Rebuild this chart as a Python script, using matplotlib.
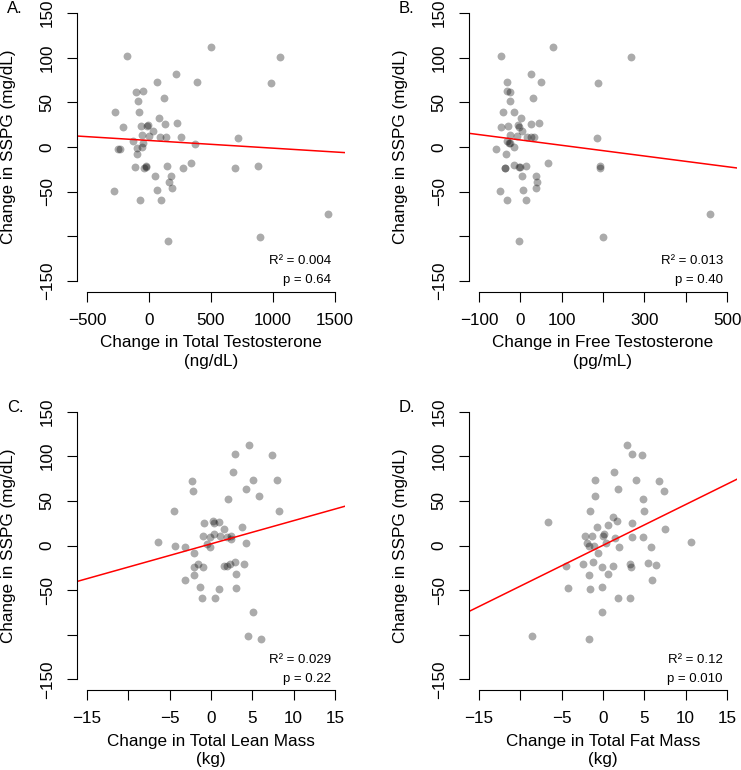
import matplotlib
matplotlib.use("Agg")
import matplotlib.pyplot as plt
import numpy as np

plt.rcParams["font.family"] = ["Liberation Sans", "DejaVu Sans"]

# Panel A: change in total testosterone (ng/dL) vs change in SSPG (mg/dL)
tt_x = [-180, 503, 1060, 216, 66, 390, 980, -106, -50, -90, 125, -272, -79, 79,
        -210, -68, -7, 130, 229, -18, 31, -60, 1, 85, 141, 256, 714, -127, -50,
        374, -250, -234, -98, -60, -95, -111, -39, -23, -20, 146, 275, 340, 691,
        875, 52, 178, 162, 189, 63, -283, -71, 95, 1441, 897, 151]
tt_y = [102, 112, 101, 82, 73, 73, 72, 62, 63, 52, 55, 39, 39, 32,
        22, 23, 25, 26, 27, 23, 18, 13, 12, 11, 11, 11, 10, 7, 4,
        3, -2, -2, -1, 0, -8, -22, -24, -21, -22, -21, -23, -18, -24,
        -21, -33, -32, -39, -46, -48, -49, -59, -59, -75, -101, -105]

# Panel B: change in free testosterone (pg/mL)
ft_x = [-47, 80, 267, 25, -31, 50, 187, -31, -24, -24, 31, -43, -16, 1,
        -46, -30, -6, 26, 46, -4, 3, -24, -8, 16, 32, 27, 186, -33, -27,
        -24, -59, -15, -35, -38, -37, -15, -2, 0, 14, 67, 192, 192, 4,
        37, 41, 38, 6, -49, -32, 14, 458, 200, -2]
ft_y = [102, 112, 101, 82, 73, 73, 72, 63, 62, 52, 55, 39, 39, 32,
        22, 23, 25, 26, 27, 22, 18, 13, 12, 11, 11, 11, 10, 7, 4,
        4, -2, 0, -8, -23, -23, -20, -22, -22, -21, -18, -21, -24, -33,
        -32, -39, -46, -48, -49, -59, -59, -75, -101, -105]

# Panel C: change in total lean mass (kg)
lm_x = [4.58, 2.85, 7.32, 2.69, -2.33, 5.11, 8.0, -2.13, 4.18, 5.75, 2.09, -4.5,
        8.28, -0.8, 0.24, 0.36, 0.92, 1.53, 3.7, -0.95, -0.07, 0.4, 1.05, 1.9,
        2.45, 2.45, 4.18, -6.35, -4.37, -3.1, -0.52, -0.16, -2.0, -2.0, -1.53,
        -0.93, 1.57, 1.93, 2.29, 2.85, 4.0, 3.05, -3.18, -2.05, -1.37, 2.97,
        0.92, -1.13, 0.48, 5.03, 4.42, 6.03]
lm_y = [112, 102, 101, 82, 72, 73, 73, 61, 63, 55, 52, 39,
        39, 25, 27, 25, 26, 18, 21, 11, 10, 13, 11, 10,
        11, 7, 3, 4, -1, -2, 2, -2, -8, -24, -21,
        -24, -23, -23, -21, -19, -21, -32, -39, -33, -46, -48,
        -49, -59, -59, -75, -101, -105]

# Panel D: change in total fat mass (kg)
fm_x = [2.89, 3.50, 4.74, 1.28, -0.97, 4.02, 6.71, 1.85, 7.40, -0.93, 4.82, -1.53,
        4.90, -6.68, 1.2, 1.65, 3.46, -0.73, 0.6, 7.48, -2.13, -1.29, 0.0, 0.16,
        1.4, 3.5, 4.86, -1.89, -1.09, 0.4, 10.65, -1.73, 1.93, 5.83, -0.64, -4.47,
        -2.37, -1.2, -0.12, 1.24, 3.26, 3.38, 5.43, 6.35, -1.69, 0.64, 5.87,
        -4.26, -1.61, -0.08, 1.81, 3.26, -0.08, -8.53, -1.73]
fm_y = [112, 102, 101, 82, 73, 73, 72, 63, 61, 55, 52, 39,
        39, 26, 32, 27, 25, 21, 23, 18, 11, 11, 11, 13,
        8, 10, 10, 3, 0, 3, 4, -1, -2, -2, -8, -23,
        -21, -18, -24, -23, -21, -24, -20, -22, -33, -32, -39,
        -48, -49, -46, -59, -59, -75, -101, -105]

# regression lines (intercept, slope) and stats as shown
fit_intercept = [7.3, 7.9, 1.85, 0.2]
fit_slope = [-0.0086, -0.0599, 2.6, 4.57]
r2_text = ["0.004", "0.013", "0.029", "0.12"]
p_text = ["0.64", "0.40", "0.22", "0.010"]

panel_letters = ["A.", "B.", "C.", "D."]
x_titles = ["Change in Total Testosterone\n(ng/dL)",
            "Change in Free Testosterone\n(pg/mL)",
            "Change in Total Lean Mass\n(kg)",
            "Change in Total Fat Mass\n(kg)"]
x_ticks = [[-500, 0, 500, 1000, 1500],
           [-100, 0, 100, 200, 300, 400, 500],
           [-15, -10, -5, 0, 5, 10, 15],
           [-15, -10, -5, 0, 5, 10, 15]]
x_ticklabels = [["\u2212500", "0", "500", "1000", "1500"],
                ["\u2212100", "0", "100", "", "300", "", "500"],
                ["\u221215", "", "\u22125", "0", "5", "10", "15"],
                ["\u221215", "", "\u22125", "0", "5", "10", "15"]]
y_ticks = [-150, -100, -50, 0, 50, 100, 150]
y_ticklabels = ["\u2212150", "", "\u221250", "0", "50", "100", "150"]

xs = [tt_x, ft_x, lm_x, fm_x]
ys = [tt_y, ft_y, lm_y, fm_y]

W, H = 741, 770
fig = plt.figure(figsize=(W / 100, H / 100), dpi=100)

# plot region corners in pixels (left, top) for each panel
lefts = [77, 469, 77, 469]
tops = [2.3, 2.3, 400.8, 400.8]
pw, ph = 268, 289.4

for i in range(4):
    ax = fig.add_axes([lefts[i] / W, (H - tops[i] - ph) / H, pw / W, ph / H])
    xt = x_ticks[i]
    ext = 0.04 * (xt[-1] - xt[0])
    ax.set_xlim(xt[0] - ext, xt[-1] + ext)
    ax.set_ylim(-162, 162)

    ax.scatter(xs[i], ys[i], s=32, color="black", alpha=0.33, linewidths=0)
    ax.axline((0, fit_intercept[i]), slope=fit_slope[i], color="red", lw=1.1)

    for s in ["top", "right"]:
        ax.spines[s].set_visible(False)
    ax.spines["left"].set_bounds(-150, 150)
    ax.spines["bottom"].set_bounds(xt[0], xt[-1])
    for s in ["left", "bottom"]:
        ax.spines[s].set_linewidth(0.8)

    ax.set_xticks(xt)
    ax.set_xticklabels(x_ticklabels[i])
    ax.set_yticks(y_ticks)
    ax.set_yticklabels(y_ticklabels, rotation=90, va="center")
    ax.tick_params(axis="both", length=7, width=0.8, labelsize=12.3)
    ax.tick_params(axis="x", pad=8)
    ax.tick_params(axis="y", pad=9)

    ax.set_xlabel(x_titles[i], fontsize=12.3, linespacing=1.3, va="top")
    ax.xaxis.set_label_coords(0.5, -0.15)
    ax.set_ylabel("Change in SSPG (mg/dL)", fontsize=12.3)
    ax.yaxis.set_label_coords(-0.228, 0.5)

    ax.text(0.947, 0.095, "R\u00b2 = " + r2_text[i], transform=ax.transAxes,
            ha="right", va="baseline", fontsize=9.5)
    ax.text(0.947, 0.03, "p = " + p_text[i], transform=ax.transAxes,
            ha="right", va="baseline", fontsize=9.5)

    fig.text((lefts[i] - 70) / W, 1 - (tops[i] + 11) / H, panel_letters[i],
             fontsize=12, ha="left", va="baseline")

fig.savefig("out.png", dpi=100)
